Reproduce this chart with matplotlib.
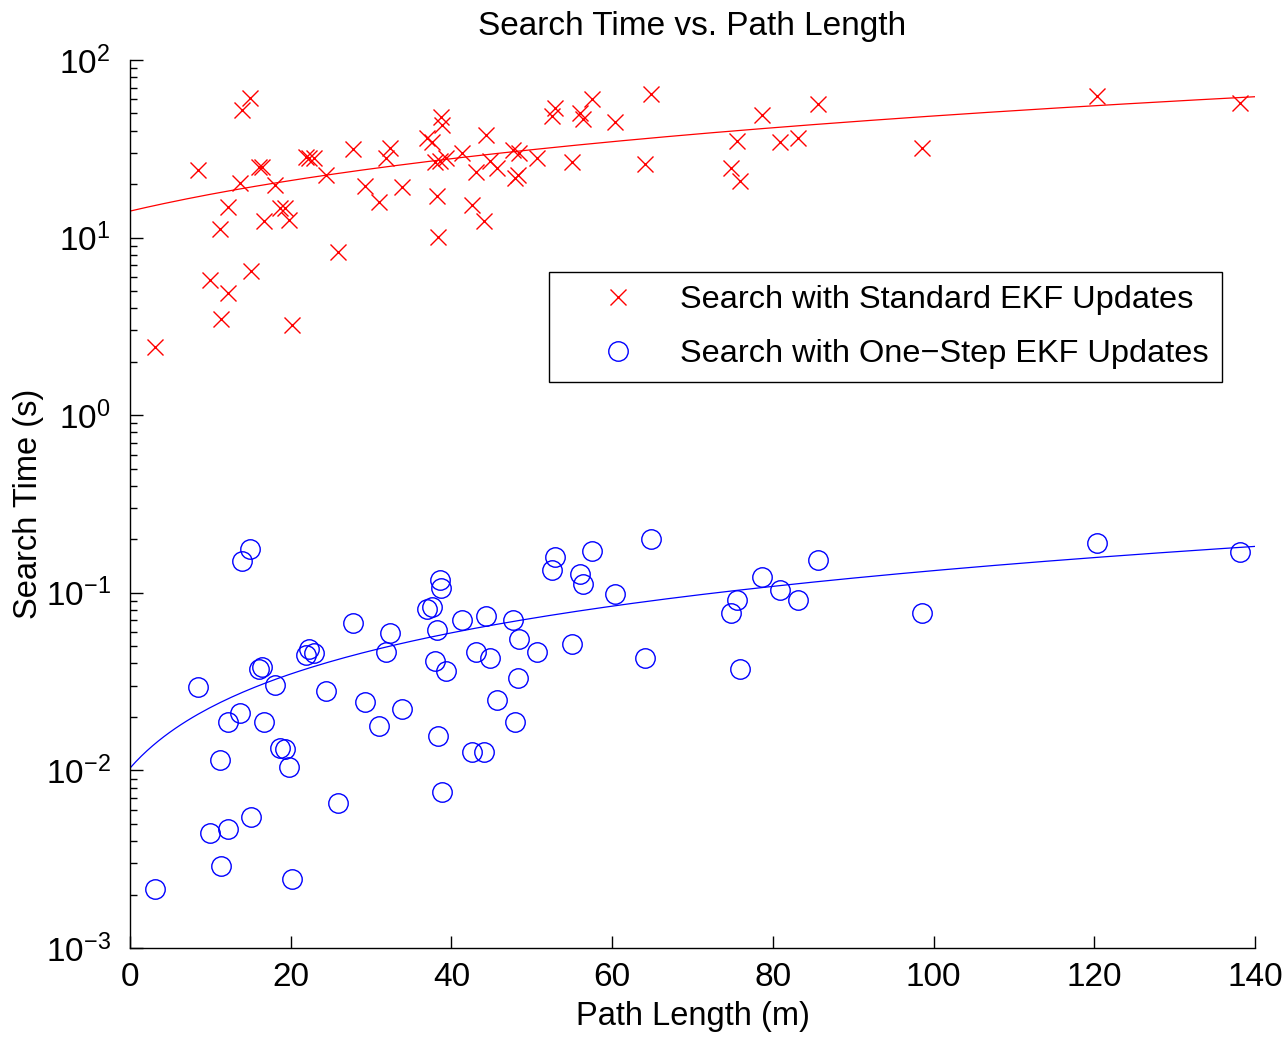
import numpy as np
import matplotlib
matplotlib.use("Agg")
import matplotlib.pyplot as plt

plt.rcParams['font.family'] = ['Liberation Sans', 'DejaVu Sans']
plt.rcParams['mathtext.default'] = 'regular'

# Path length (m) for each search
path_length = [3.1, 8.5, 10.0, 11.2, 11.3, 12.2, 12.2, 13.7, 13.9, 14.9,
               15.1, 16.1, 16.4, 16.7, 18.0, 18.7, 19.3, 19.8, 20.2, 21.9,
               22.3, 22.9, 24.4, 25.9, 27.8, 29.2, 31.0, 31.9, 32.3, 33.8,
               37.0, 37.6, 37.9, 38.2, 38.3, 38.6, 38.7, 38.8, 39.3, 41.3,
               42.6, 43.1, 44.0, 44.3, 44.8, 45.7, 47.6, 47.9, 48.3, 48.4,
               50.6, 52.5, 52.9, 55.0, 56.0, 56.4, 57.5, 60.4, 64.1, 64.8,
               74.8, 75.5, 75.9, 78.6, 80.9, 83.1, 85.6, 98.6, 120.3, 138.1]

# Search time (s) with standard EKF updates
time_standard = [2.42, 24, 5.8, 11.2, 3.5, 4.9, 14.9, 20.3, 52, 61,
                 6.5, 25, 25, 12.4, 19.8, 14.7, 14.7, 12.6, 3.2, 28.4,
                 28, 28, 22.5, 8.3, 31.6, 19.5, 15.9, 28, 32, 19.3,
                 36.4, 34.7, 26.7, 17.1, 10.1, 27, 47.8, 43, 28, 30,
                 15.3, 23.4, 12.4, 38, 27, 24.7, 31, 21.7, 22.5, 30,
                 28, 48.4, 54, 26.7, 50, 46.5, 60, 45, 26, 64,
                 24.7, 35, 20.8, 49, 34.4, 36.4, 56.5, 32, 62.7, 57.3]

# Search time (s) with one-step EKF updates
time_onestep = [0.00215, 0.0295, 0.00444, 0.01145, 0.0029, 0.00468, 0.0187, 0.021, 0.151, 0.177,
                0.0055, 0.037, 0.038, 0.0187, 0.0303, 0.0134, 0.0132, 0.0104, 0.00245, 0.0447,
                0.048, 0.046, 0.028, 0.00655, 0.0676, 0.0243, 0.0178, 0.0463, 0.0594, 0.0222,
                0.081, 0.083, 0.0413, 0.0617, 0.0156, 0.118, 0.107, 0.00755, 0.0363, 0.07,
                0.0127, 0.0465, 0.0127, 0.074, 0.043, 0.025, 0.07, 0.0187, 0.033, 0.055,
                0.0465, 0.134, 0.159, 0.0515, 0.128, 0.112, 0.172, 0.0985, 0.043, 0.201,
                0.0766, 0.091, 0.037, 0.123, 0.104, 0.091, 0.153, 0.0766, 0.19, 0.170]

# Linear fit lines (intercept, slope)
fit_standard = (14.1, 0.343)
fit_onestep = (0.0103, 0.00123)

fig = plt.figure(figsize=(12.87, 10.39), dpi=100)
ax = fig.add_axes([130/1287, 91/1039, 1125/1287, 888/1039])

ax.plot(path_length, time_standard, 'x', color='red', markersize=11,
        markeredgewidth=1.0, label='Search with Standard EKF Updates')
ax.plot(path_length, time_onestep, 'o', color='blue', markerfacecolor='none',
        markersize=14, markeredgewidth=1.0, label='Search with One\u2212Step EKF Updates')

xfit = np.linspace(0, 140, 200)
ax.plot(xfit, fit_standard[0] + fit_standard[1] * xfit, color='red', linewidth=0.9)
ax.plot(xfit, fit_onestep[0] + fit_onestep[1] * xfit, color='blue', linewidth=0.9)

ax.set_yscale('log')
ax.set_xlim(0, 140)
ax.set_ylim(1e-3, 1e2)
ax.set_xticks([0, 20, 40, 60, 80, 100, 120, 140])

ax.spines['top'].set_visible(False)
ax.spines['right'].set_visible(False)
for s in ['left', 'bottom']:
    ax.spines[s].set_linewidth(1.0)

ax.tick_params(axis='both', which='major', direction='in', length=9, width=1.0,
               labelsize=24, pad=10)
ax.tick_params(axis='y', which='major', pad=14)
ax.tick_params(axis='y', which='minor', direction='in', length=5, width=1.0)

ax.set_xlabel('Path Length (m)', fontsize=23.5, labelpad=6)
ax.set_ylabel('Search Time (s)', fontsize=23.5, labelpad=1)
ax.set_title('Search Time vs. Path Length', fontsize=24, pad=18)

leg = ax.legend(loc='upper left', bbox_to_anchor=(0.3724, 0.7613), fontsize=23.4,
                frameon=True, fancybox=False, edgecolor='black', framealpha=1,
                handlelength=3.45, handletextpad=0.18, borderpad=0.4, labelspacing=0.75,
                borderaxespad=0)
leg.get_frame().set_linewidth(1.0)

fig.savefig('out.png', dpi=100)
